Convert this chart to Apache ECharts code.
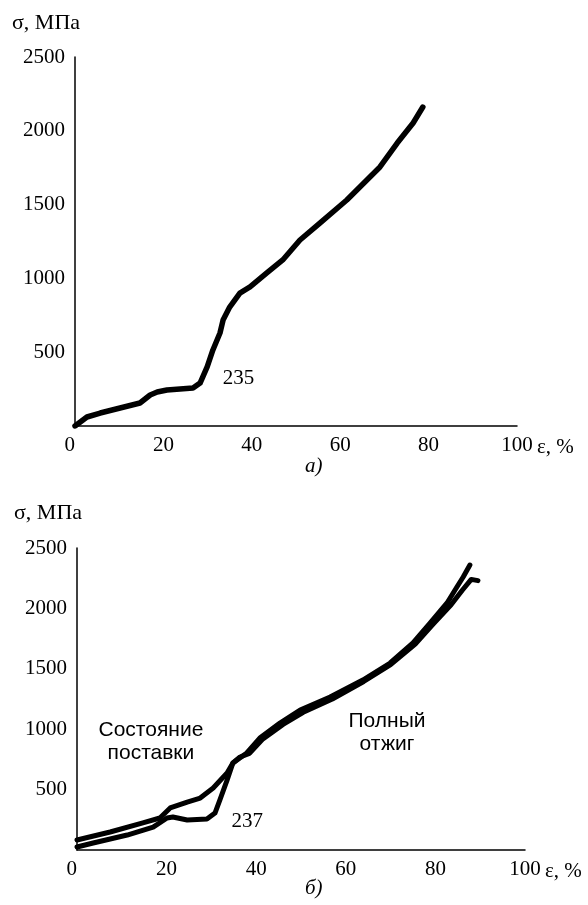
<!DOCTYPE html>
<html>
<head>
<meta charset="utf-8">
<script src="https://cdn.jsdelivr.net/npm/echarts@6/dist/echarts.min.js"></script>
<style>
  html, body { margin: 0; padding: 0; background: #fff; }
  #chart { width: 588px; height: 905px; }
</style>
</head>
<body>
<div id="chart"></div>
<script>
// шкалы
const strainTicks = [0, 20, 40, 60, 80, 100]
const stressTicks = [500, 1000, 1500, 2000, 2500]

// а) сплав 235
const strain235 = [0, 2.7, 5.7, 10.2, 14.7, 17, 18.6, 20.8, 26.7, 28.3, 29.9, 31.2, 32.8, 33.5, 35, 37.3, 39.6, 43.4, 47, 50.9, 55.4, 61.5, 69, 72.9, 76.5, 78.7]
const stress235 = [0, 61, 88, 122, 156, 210, 230, 244, 257, 291, 400, 515, 630, 718, 806, 901, 942, 1037, 1125, 1260, 1375, 1531, 1755, 1917, 2053, 2161]

// б) сплав 237, состояние поставки
const strainDelivered = [0, 7.4, 14.7, 18.5, 20.8, 24.6, 27.5, 30.4, 33.5, 34.8, 37.9, 40.8, 45.3, 49.8, 56.5, 63.8, 69.9, 75, 78.8, 82.6, 84.8, 86.2, 87.7]
const stressDelivered = [83, 149, 224, 265, 348, 397, 430, 513, 637, 720, 803, 927, 1051, 1159, 1267, 1407, 1548, 1714, 1879, 2045, 2177, 2260, 2359]

// б) сплав 237, полный отжиг
const strainAnnealed = [0, 3.6, 11.2, 17, 20.1, 21.4, 24.6, 29, 30.8, 31.9, 33.5, 34.8, 36.4, 38.5, 41.5, 46, 50.5, 57, 64, 70, 75.5, 79.5, 83.5, 86, 88, 89.5]
const stressAnnealed = [25, 58, 124, 190, 265, 273, 248, 257, 306, 414, 579, 720, 770, 800, 920, 1040, 1140, 1250, 1395, 1535, 1705, 1870, 2030, 2150, 2240, 2230]

// подписи на графиках
const notesTop = [{ text: '235', x: 37, y: 325 }]
const notesBottom = [
  { text: 'Состояние\nпоставки', x: 16.5, y: 894, sans: true },
  { text: '237', x: 38, y: 232 },
  { text: 'Полный\nотжиг', x: 69.2, y: 969, sans: true }
]

const serif = 'Liberation Serif'
const sans = 'Liberation Sans'

function zip(xs, ys) {
  return xs.map((x, i) => [x, ys[i]])
}

function makeXAxis(gridIndex) {
  return {
    type: 'value',
    gridIndex: gridIndex,
    min: strainTicks[0],
    max: strainTicks[strainTicks.length - 1],
    interval: 20,
    name: 'ε, %',
    nameLocation: 'end',
    nameGap: 20,
    nameTextStyle: { color: '#000', fontFamily: serif, fontSize: 21, verticalAlign: 'top', align: 'left', padding: [11, 0, 0, 0] },
    axisLine: { lineStyle: { color: '#000', width: 1.5 } },
    axisTick: { show: false },
    splitLine: { show: false },
    axisLabel: { color: '#000', fontFamily: serif, fontSize: 21, margin: 9, alignMinLabel: 'right' }
  }
}

function makeYAxis(gridIndex, gap) {
  return {
    type: 'value',
    gridIndex: gridIndex,
    min: 0,
    max: stressTicks[stressTicks.length - 1],
    interval: 500,
    name: 'σ, МПа',
    nameLocation: 'end',
    nameGap: gap,
    nameTextStyle: { color: '#000', fontFamily: serif, fontSize: 22, align: 'left', padding: [0, 0, 0, -63] },
    axisLine: { show: true, lineStyle: { color: '#000', width: 1.5 } },
    axisTick: { show: false },
    splitLine: { show: false },
    axisLabel: {
      color: '#000', fontFamily: serif, fontSize: 21, margin: 10,
      formatter: v => (stressTicks.includes(v) ? String(v) : '')
    }
  }
}

function curve(xIdx, xs, ys, width) {
  return {
    type: 'line',
    xAxisIndex: xIdx,
    yAxisIndex: xIdx,
    data: zip(xs, ys),
    showSymbol: false,
    silent: true,
    lineStyle: { color: '#000', width: width, join: 'round', cap: 'round' }
  }
}

function notes(xIdx, list) {
  return {
    type: 'scatter',
    xAxisIndex: xIdx,
    yAxisIndex: xIdx,
    symbolSize: 0,
    silent: true,
    itemStyle: { color: '#000', opacity: 1 },
    data: list.map(n => ({
      value: [n.x, n.y],
      label: {
        show: true,
        position: 'inside',
        formatter: n.text,
        color: '#000',
        opacity: 1,
        textBorderWidth: 0,
        fontSize: n.sans ? 21 : 21,
        lineHeight: 23,
        fontFamily: n.sans ? sans : serif
      }
    }))
  }
}

const chart = echarts.init(document.getElementById('chart'))
chart.setOption({
  backgroundColor: '#fff',
  animation: false,
  title: [
    { text: 'а)', left: 300, top: 451, textStyle: { fontFamily: serif, fontStyle: 'italic', fontWeight: 'normal', fontSize: 21, color: '#000' } },
    { text: 'б)', left: 300, top: 873, textStyle: { fontFamily: serif, fontStyle: 'italic', fontWeight: 'normal', fontSize: 21, color: '#000' } }
  ],
  grid: [
    { left: 75, top: 57, width: 442, height: 369 },
    { left: 77, top: 548, width: 448, height: 302 }
  ],
  xAxis: [makeXAxis(0), makeXAxis(1)],
  yAxis: [makeYAxis(0, 23), makeYAxis(1, 24)],
  series: [
    curve(0, strain235, stress235, 5.5),
    curve(1, strainDelivered, stressDelivered, 5),
    curve(1, strainAnnealed, stressAnnealed, 5),
    notes(0, notesTop),
    notes(1, notesBottom)
  ]
})
</script>
</body>
</html>
